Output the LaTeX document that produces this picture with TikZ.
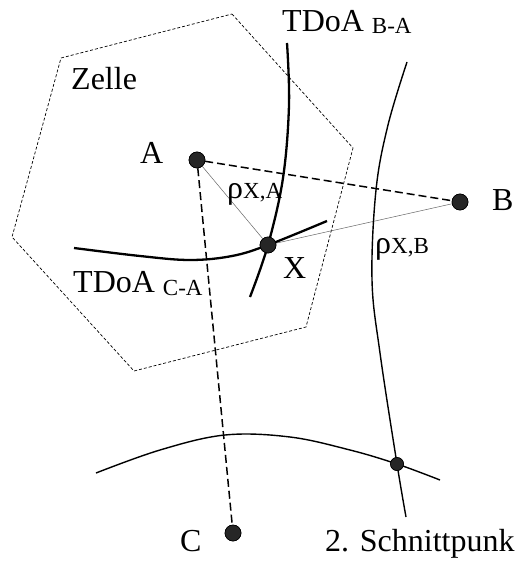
\documentclass[tikz,border=0pt]{standalone}
\usepackage{fontspec}
\setmainfont{Liberation Serif}
\usepackage{tikz}
\usetikzlibrary{positioning}
\newcommand{\subtxt}[1]{{\fontsize{23}{27}\selectfont #1}}

\begin{document}
\begin{tikzpicture}[x=1pt, y=-1pt,
  font=\fontsize{32}{38}\selectfont,
  station/.style={circle, draw=black, fill=black!85, line width=0.6pt, minimum size=16pt, inner sep=0pt},
  crossdot/.style={circle, draw=black, fill=black!85, line width=0.6pt, minimum size=13pt, inner sep=0pt},
  lbl/.style={anchor=base west, inner sep=0pt},
  cellline/.style={line width=0.7pt, dash pattern=on 3pt off 2pt},
  baseline/.style={line width=1.5pt, dash pattern=on 8pt off 4pt},
  rangeline/.style={line width=0.5pt, color=black!60},
  hyper/.style={line width=2.3pt},
  hyperthin/.style={line width=1.4pt}]
\useasboundingbox (0,0) rectangle (516,561);
% cell
\draw[cellline] (232,14) -- (353,148) -- (306,327) -- (134,371) -- (12,237) -- (61,58) -- cycle;
% stations and intersections
\node[station] (A) at (197,160) {};
\node[station] (B) at (460,202) {};
\node[station] (C) at (233,533) {};
\node[station] (X) at (268,245) {};
\node[crossdot] (S) at (397,464) {};
% baselines and ranges
\draw[baseline] (A) -- (B);
\draw[baseline] (A) -- (C);
\draw[rangeline] (A) -- (X);
\draw[rangeline] (X) -- (B);
% hyperbolas
\draw[hyper] plot[smooth, tension=0.6] coordinates {(287,43) (289,105) (283,178) (X.center) (250,297)};
\draw[hyper] plot[smooth, tension=0.6] coordinates {(74,248) (140,256) (190,260) (232,256) (X.center) (327,221)};
\draw[hyperthin] plot[smooth, tension=0.6] coordinates {(407,62) (388,125) (376,190) (372,280) (380,353) (S.center) (406,517)};
\draw[hyperthin] plot[smooth, tension=0.6] coordinates {(96,473) (160,450) (225,435) (290,437) (350,450) (S.center) (440,480)};
% redraw dots on top
\node[station] at (A) {};
\node[station] at (B) {};
\node[station] at (C) {};
\node[station] at (X) {};
\node[crossdot] at (S) {};
% labels
\node[lbl] (tba) at (282,32) {TDoA \raisebox{-2pt}{\subtxt{B-A}}};
\node[lbl] (zelle) at (71,90) {Zelle};
\node[lbl] (la) at (140,164) {A};
\node[lbl] (lb) at (492,210) {B};
\node[lbl] (rxa) at (227,199) {ρ\subtxt{X,A}};
\node[lbl] (rxb) at (375,253) {ρ\subtxt{X,B}};
\node[lbl] (lx) at (283,278) {X};
\node[lbl] (tca) at (73,292) {TDoA \raisebox{-3pt}{\subtxt{C-A}}};
\node[lbl] (lc) at (180,551) {C};
\node[lbl] (ls) at (325,551) {2. Schnittpunk};
\end{tikzpicture}
\end{document}
